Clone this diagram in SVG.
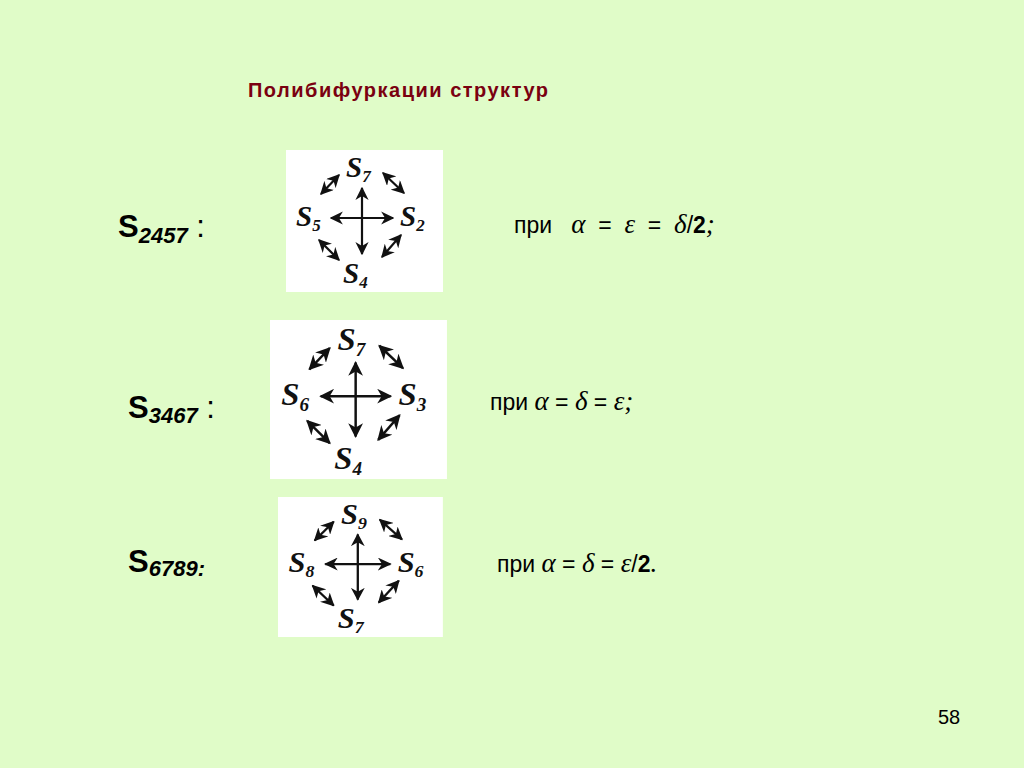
<svg xmlns="http://www.w3.org/2000/svg" width="1024" height="768" viewBox="0 0 1024 768">
<style>
.s{font-family:"Liberation Serif",serif;font-weight:bold;font-style:italic;font-size:29px;fill:#111}
.sub{font-size:17px}
.ln{stroke:#111;stroke-width:2.2;fill:none}
.lbl{font-family:"Liberation Sans",sans-serif;font-size:31px;fill:#000}
.t{font-family:"Liberation Sans",sans-serif;font-size:23px;fill:#000}
.g{font-family:"Liberation Serif",serif;font-size:27px;font-style:italic}
</style>
<defs>
<marker id="a" viewBox="0 0 10 10" refX="9" refY="5" markerWidth="6" markerHeight="6" orient="auto-start-reverse"><path d="M0,0 L10,5 L0,10 L3,5 z" fill="#111"/></marker>
<g id="arr">
<line class="ln" x1="45" y1="68" x2="107" y2="68" marker-start="url(#a)" marker-end="url(#a)"/>
<line class="ln" x1="76" y1="38" x2="76" y2="104" marker-start="url(#a)" marker-end="url(#a)"/>
<line class="ln" x1="35" y1="44" x2="53" y2="25" marker-start="url(#a)" marker-end="url(#a)"/>
<line class="ln" x1="97" y1="23" x2="118" y2="43" marker-start="url(#a)" marker-end="url(#a)"/>
<line class="ln" x1="33" y1="90" x2="53" y2="110" marker-start="url(#a)" marker-end="url(#a)"/>
<line class="ln" x1="96" y1="107" x2="115" y2="85" marker-start="url(#a)" marker-end="url(#a)"/>
</g>
</defs>
<rect width="1024" height="768" fill="#e0fcc8"/>
<text x="248" y="97" font-family="Liberation Sans,sans-serif" font-weight="bold" font-size="20" fill="#7a0010" textLength="300">Полибифуркации структур</text>
<g id="panel1" transform="translate(286,150)">
<rect width="157" height="142" fill="#fff"/>
<use href="#arr"/>
<text class="s" x="60" y="27">S<tspan class="sub" dy="5">7</tspan></text>
<text class="s" x="10" y="76">S<tspan class="sub" dy="5">5</tspan></text>
<text class="s" x="114" y="76">S<tspan class="sub" dy="5">2</tspan></text>
<text class="s" x="57" y="133">S<tspan class="sub" dy="5">4</tspan></text>
</g>
<g id="panel2" transform="translate(270,320) scale(1.127,1.12)">
<rect width="157" height="142" fill="#fff"/>
<use href="#arr"/>
<text class="s" x="60" y="27">S<tspan class="sub" dy="5">7</tspan></text>
<text class="s" x="10" y="76">S<tspan class="sub" dy="5">6</tspan></text>
<text class="s" x="114" y="76">S<tspan class="sub" dy="5">3</tspan></text>
<text class="s" x="57" y="133">S<tspan class="sub" dy="5">4</tspan></text>
</g>
<g id="panel3" transform="translate(278,497) scale(1.05,0.986)">
<rect width="157" height="142" fill="#fff"/>
<use href="#arr"/>
<text class="s" x="60" y="27">S<tspan class="sub" dy="5">9</tspan></text>
<text class="s" x="10" y="76">S<tspan class="sub" dy="5">8</tspan></text>
<text class="s" x="114" y="76">S<tspan class="sub" dy="5">6</tspan></text>
<text class="s" x="57" y="133">S<tspan class="sub" dy="5">7</tspan></text>
</g>
<g id="labels">
<text class="lbl" x="118" y="237"><tspan font-weight="bold">S</tspan><tspan font-size="22" font-weight="bold" font-style="italic" dy="6">2457</tspan><tspan dy="-6"> :</tspan></text>
<text class="lbl" x="128" y="418"><tspan font-weight="bold">S</tspan><tspan font-size="22" font-weight="bold" font-style="italic" dy="5">3467</tspan><tspan dy="-5"> :</tspan></text>
<text class="lbl" x="128" y="572"><tspan font-weight="bold">S</tspan><tspan font-size="22" font-weight="bold" font-style="italic" dy="4">6789:</tspan></text>
<text class="t" x="514" y="233" xml:space="preserve">при   <tspan class="g">α</tspan>  =  <tspan class="g">ε</tspan>  =  <tspan class="g">δ</tspan>/<tspan font-weight="bold">2</tspan><tspan class="g" font-style="normal">;</tspan></text>
<text class="t" x="490" y="410" xml:space="preserve">при <tspan class="g">α</tspan> = <tspan class="g">δ</tspan> = <tspan class="g">ε</tspan><tspan class="g" font-style="normal">;</tspan></text>
<text class="t" x="497" y="572" xml:space="preserve">при <tspan class="g">α</tspan> = <tspan class="g">δ</tspan> = <tspan class="g">ε</tspan>/<tspan font-weight="bold">2</tspan><tspan class="g" font-style="normal">.</tspan></text>
</g>
<text x="938" y="724" font-family="Liberation Sans,sans-serif" font-size="20" fill="#000">58</text>
</svg>
